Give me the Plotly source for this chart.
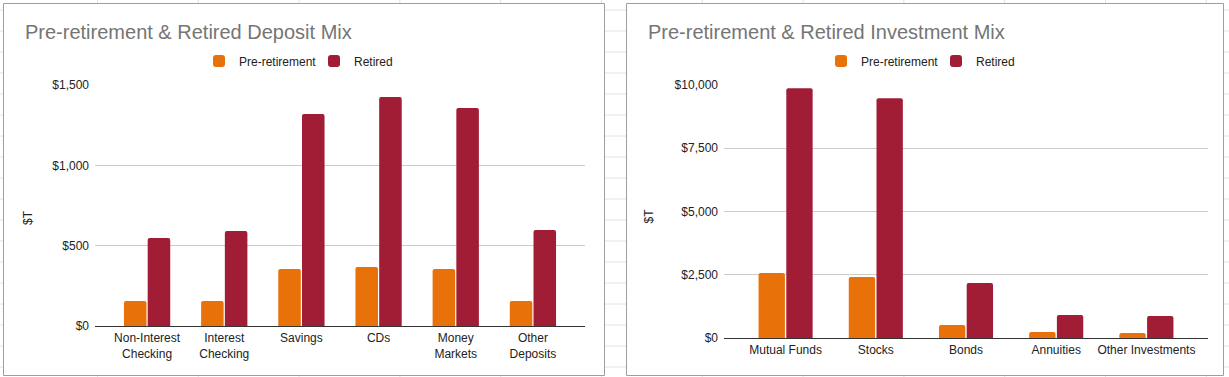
import plotly.graph_objects as go

W, H = 1229, 377

# ---------------- data ----------------
dep_categories = ["Non-Interest<br>Checking", "Interest<br>Checking", "Savings",
                  "CDs", "Money<br>Markets", "Other<br>Deposits"]
dep_pre = [155, 155, 355, 367, 355, 155]
dep_ret = [548, 591, 1320, 1425, 1357, 598]

inv_categories = ["Mutual Funds", "Stocks", "Bonds", "Annuities", "Other Investments"]
inv_pre = [2570, 2410, 510, 240, 200]
inv_ret = [9870, 9480, 2175, 910, 870]

dep_ticks = [0, 500, 1000, 1500]
dep_ticktext = ["$0", "$500", "$1,000", "$1,500"]
inv_ticks = [0, 2500, 5000, 7500, 10000]
inv_ticktext = ["$0", "$2,500", "$5,000", "$7,500", "$10,000"]

series_names = ["Pre-retirement", "Retired"]
titles = ["Pre-retirement & Retired Deposit Mix", "Pre-retirement & Retired Investment Mix"]

# ---------------- style ----------------
ORANGE = "#e8710a"
RED = "#a11c35"
FONT = "Arial, Liberation Sans, sans-serif"


def px(x):
    return x / W


def py(y):
    return 1 - y / H


fig = go.Figure()

fig.add_trace(go.Bar(x=dep_categories, y=dep_pre, name=series_names[0], marker_color=ORANGE,
                     xaxis="x", yaxis="y", legend="legend", hoverinfo="skip"))
fig.add_trace(go.Bar(x=dep_categories, y=dep_ret, name=series_names[1], marker_color=RED,
                     xaxis="x", yaxis="y", legend="legend", hoverinfo="skip"))
fig.add_trace(go.Bar(x=inv_categories, y=inv_pre, name=series_names[0], marker_color=ORANGE,
                     xaxis="x2", yaxis="y2", legend="legend2", hoverinfo="skip"))
fig.add_trace(go.Bar(x=inv_categories, y=inv_ret, name=series_names[1], marker_color=RED,
                     xaxis="x2", yaxis="y2", legend="legend2", hoverinfo="skip"))

# ---------------- background spreadsheet grid + chart frames ----------------
shapes = []
GRID = "#e2e2e2"
for k in range(19):
    yy = 10 + 21 * k
    shapes.append(dict(type="line", xref="paper", yref="paper", x0=0, x1=1,
                       y0=py(yy), y1=py(yy), line=dict(color=GRID, width=1), layer="below"))
for k in range(-1, 13):
    xx = 97.5 + 100.8 * k
    if 0 <= xx <= W:
        shapes.append(dict(type="line", xref="paper", yref="paper", x0=px(xx), x1=px(xx),
                           y0=0, y1=1, line=dict(color=GRID, width=1), layer="below"))
for (x0, x1) in [(3.5, 604.5), (626.5, 1223.5)]:
    shapes.append(dict(type="rect", xref="paper", yref="paper", x0=px(x0), x1=px(x1),
                       y0=py(375.5), y1=py(3.5), fillcolor="white",
                       line=dict(color="#9e9e9e", width=1), layer="below"))

annotations = [
    dict(text=titles[0], x=px(23), y=py(31.5), xref="paper", yref="paper",
         xanchor="left", yanchor="middle", showarrow=False,
         font=dict(family=FONT, size=20, color="#757575")),
    dict(text=titles[1], x=px(646), y=py(31.5), xref="paper", yref="paper",
         xanchor="left", yanchor="middle", showarrow=False,
         font=dict(family=FONT, size=20, color="#757575")),
    dict(text="$T", x=px(28), y=py(218), xref="paper", yref="paper", textangle=-90,
         xanchor="center", yanchor="middle", showarrow=False,
         font=dict(family=FONT, size=12, color="#222222")),
    dict(text="$T", x=px(648.5), y=py(216), xref="paper", yref="paper", textangle=-90,
         xanchor="center", yanchor="middle", showarrow=False,
         font=dict(family=FONT, size=12, color="#222222")),
]

tickfont = dict(family=FONT, size=12, color="#222222")

common_x = dict(type="category", showgrid=False, showline=True, linecolor="#333333",
                linewidth=1, ticks="", tickfont=tickfont, fixedrange=True, zeroline=False,
                automargin=False)
common_y = dict(showgrid=True, gridcolor="#cccccc", gridwidth=1, zeroline=False,
                showline=False, ticks="", tickfont=tickfont, fixedrange=True,
                ticklabelstandoff=5, automargin=False, tickmode="array")

legend_common = dict(orientation="h", xanchor="center", yanchor="middle",
                     bgcolor="rgba(0,0,0,0)", font=dict(family=FONT, size=12, color="#222222"),
                     itemclick=False, itemdoubleclick=False,
                     entrywidth=70, entrywidthmode="pixels")

fig.update_layout(
    template="none",
    width=W, height=H,
    autosize=False,
    margin=dict(l=0, r=0, t=0, b=0, pad=0, autoexpand=False),
    paper_bgcolor="white",
    plot_bgcolor="rgba(0,0,0,0)",
    barmode="group",
    bargap=0.385,
    bargroupgap=0.05,
    barcornerradius=2,
    font=dict(family=FONT, size=12, color="#222222"),
    xaxis=dict(common_x, domain=[px(95), px(585)], range=[-0.675, 5.675], anchor="y",
               ticklabelstandoff=1),
    yaxis=dict(common_y, domain=[py(326), py(85)], range=[0, 1500], tickvals=dep_ticks,
               ticktext=dep_ticktext, anchor="x"),
    xaxis2=dict(common_x, domain=[px(724), px(1208)], range=[-0.683, 4.683], anchor="y2",
                ticklabelstandoff=1),
    yaxis2=dict(common_y, domain=[py(338), py(85)], range=[0, 10000], tickvals=inv_ticks,
                ticktext=inv_ticktext, anchor="x2"),
    legend=dict(legend_common, x=px(314), y=py(61)),
    legend2=dict(legend_common, x=px(936), y=py(61)),
    shapes=shapes,
    annotations=annotations,
    showlegend=True,
)

fig.write_html(
    "out.html",
    config={"displayModeBar": False, "responsive": False},
    post_script="document.body.style.margin='0';document.body.style.overflow='hidden';",
)
